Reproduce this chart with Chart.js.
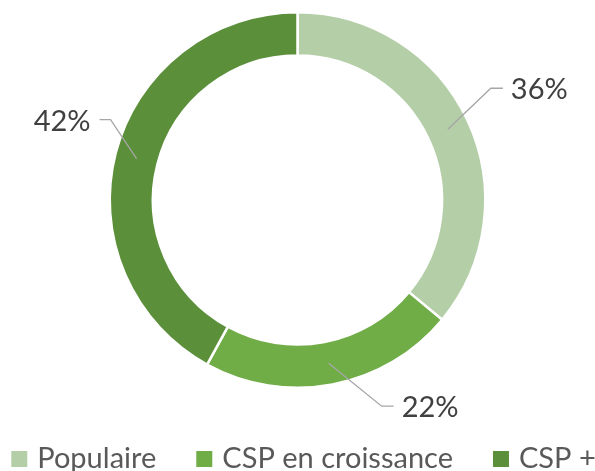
<!DOCTYPE html>
<html>
<head>
<meta charset="utf-8">
<script src="https://cdn.jsdelivr.net/npm/chart.js@4/dist/chart.umd.min.js"></script>
<style>
  html, body { margin: 0; padding: 0; background: #fff; }
  #wrap { width: 595px; height: 471px; }
</style>
</head>
<body>
<div id="wrap"><canvas id="chart"></canvas></div>
<script>
const categories = ['Populaire', 'CSP en croissance', 'CSP +']
const shares = [36, 22, 42]
const sliceColors = ['#b4cfa7', '#70ad47', '#5b8f3a']

// leader line elbow offsets (from the ring midpoint) and text side
const leaders = [
  { dx: 43, dy: -41, run: 12, side: 'right' },
  { dx: 53, dy: 43, run: 12, side: 'right' },
  { dx: -26, dy: -39, run: -11, side: 'left' }
]

const fontFamily = 'Lato, "Liberation Sans", sans-serif'

const leaderLabels = {
  id: 'leaderLabels',
  afterDatasetsDraw(chart) {
    const ctx = chart.ctx
    const meta = chart.getDatasetMeta(0)
    ctx.save()
    meta.data.forEach((arc, i) => {
      const mid = (arc.startAngle + arc.endAngle) / 2
      const r = (arc.innerRadius + arc.outerRadius) / 2
      const x0 = arc.x + Math.cos(mid) * r
      const y0 = arc.y + Math.sin(mid) * r
      const l = leaders[i]
      const x1 = x0 + l.dx
      const y1 = y0 + l.dy
      const x2 = x1 + l.run
      ctx.strokeStyle = '#a6a6a6'
      ctx.lineWidth = 1.3
      ctx.beginPath()
      ctx.moveTo(x0, y0)
      ctx.lineTo(x1, y1)
      ctx.lineTo(x2, y1)
      ctx.stroke()
      ctx.fillStyle = '#404040'
      ctx.font = '29px ' + fontFamily
      ctx.textBaseline = 'alphabetic'
      ctx.textAlign = l.side === 'right' ? 'left' : 'right'
      const gap = l.side === 'right' ? 8 : -9
      ctx.fillText(shares[i] + '%', x2 + gap, y1 + 11)
    })
    ctx.restore()
  }
}

// legend drawn along the bottom edge, items in one row
const bottomLegend = {
  id: 'bottomLegend',
  afterDraw(chart) {
    const ctx = chart.ctx
    const box = 16
    const boxGap = 10
    const itemGap = 40
    const baseline = 468
    ctx.save()
    ctx.font = '29px ' + fontFamily
    const widths = chart.data.labels.map(t => ctx.measureText(t).width)
    const total = widths.reduce((s, w) => s + box + boxGap + w, 0) + itemGap * (widths.length - 1)
    let x = (chart.width - total) / 2 + 6
    chart.data.labels.forEach((text, i) => {
      ctx.fillStyle = chart.data.datasets[0].backgroundColor[i]
      ctx.fillRect(x, baseline - 17, box, box)
      x += box + boxGap
      ctx.fillStyle = '#595959'
      ctx.textAlign = 'left'
      ctx.textBaseline = 'alphabetic'
      ctx.fillText(text, x, baseline)
      x += widths[i] + itemGap
    })
    ctx.restore()
  }
}

new Chart(document.getElementById('chart'), {
  type: 'doughnut',
  data: {
    labels: categories,
    datasets: [{
      data: shares,
      backgroundColor: sliceColors,
      borderColor: '#ffffff',
      borderWidth: 2.5
    }]
  },
  options: {
    responsive: true,
    maintainAspectRatio: false,
    animation: false,
    cutout: '77%',
    layout: {
      padding: { top: 11, bottom: 82, left: 0, right: 0 }
    },
    plugins: {
      tooltip: { enabled: false },
      legend: { display: false }
    }
  },
  plugins: [leaderLabels, bottomLegend]
})
</script>
</body>
</html>
